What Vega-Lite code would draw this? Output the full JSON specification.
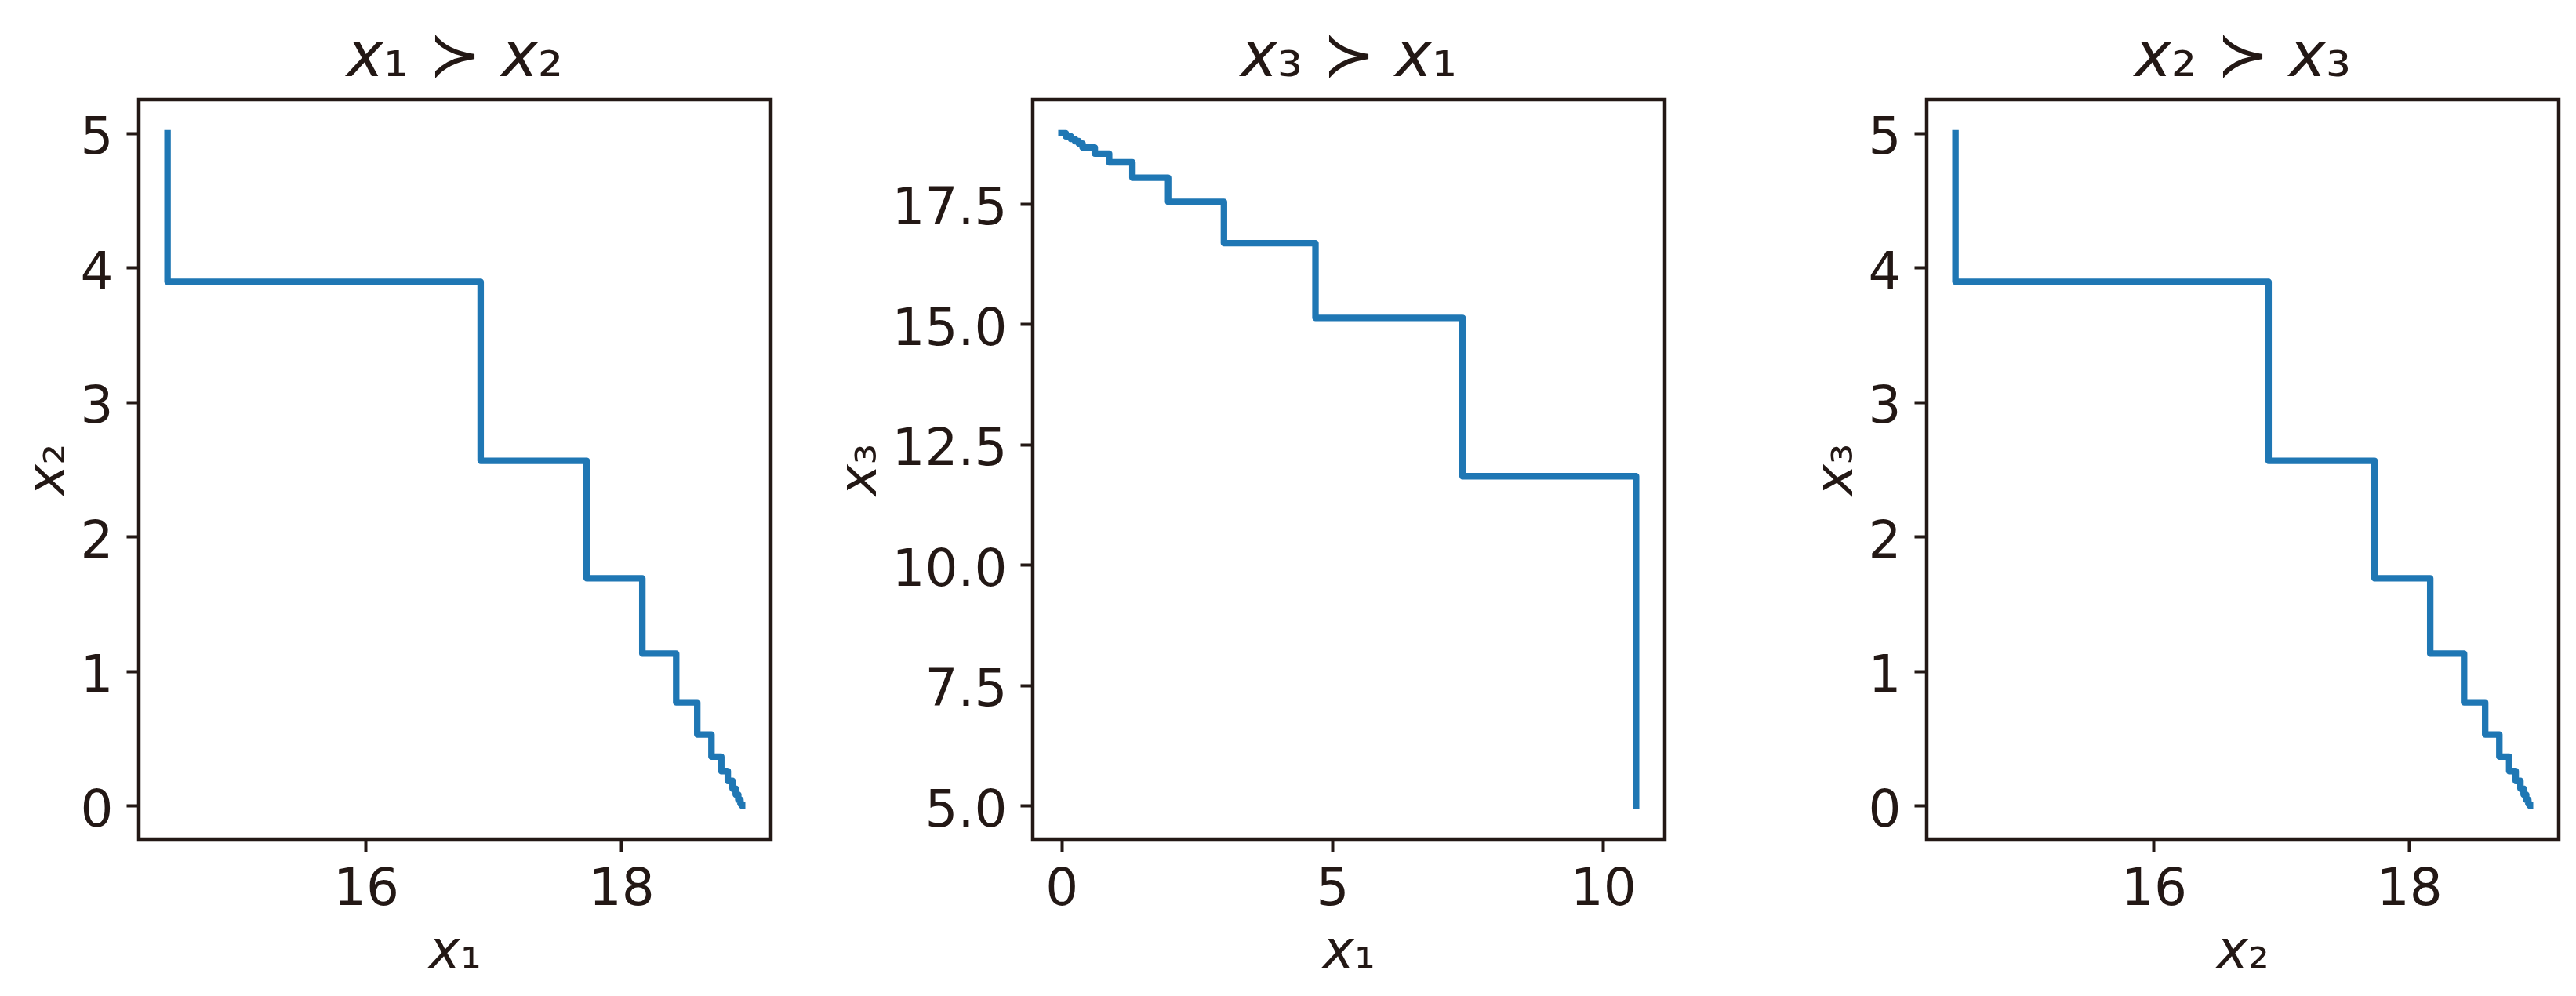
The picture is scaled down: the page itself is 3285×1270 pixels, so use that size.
{
  "$schema": "https://vega.github.io/schema/vega-lite/v6.json",
  "background": "white",
  "padding": {"left": 24, "top": 30, "right": 10, "bottom": 10},
  "datasets": {
    "p1": [
      {"i": 0, "x1": 14.448, "x2": 5},
      {"i": 1, "x1": 16.899, "x2": 3.895},
      {"i": 2, "x1": 17.729, "x2": 2.564},
      {"i": 3, "x1": 18.165, "x2": 1.69},
      {"i": 4, "x1": 18.43, "x2": 1.13},
      {"i": 5, "x1": 18.595, "x2": 0.767},
      {"i": 6, "x1": 18.706, "x2": 0.528},
      {"i": 7, "x1": 18.783, "x2": 0.363},
      {"i": 8, "x1": 18.834, "x2": 0.256},
      {"i": 9, "x1": 18.871, "x2": 0.183},
      {"i": 10, "x1": 18.896, "x2": 0.126},
      {"i": 11, "x1": 18.916, "x2": 0.082},
      {"i": 12, "x1": 18.933, "x2": 0.043},
      {"i": 13, "x1": 18.943, "x2": 0.014},
      {"i": 14, "x1": 18.946, "x2": 0}
    ],
    "p2": [
      {"i": 0, "x1": 0, "x3": 18.965},
      {"i": 1, "x1": 0.08, "x3": 18.9},
      {"i": 2, "x1": 0.175, "x3": 18.845},
      {"i": 3, "x1": 0.25, "x3": 18.8},
      {"i": 4, "x1": 0.32, "x3": 18.748},
      {"i": 5, "x1": 0.39, "x3": 18.667},
      {"i": 6, "x1": 0.615, "x3": 18.54},
      {"i": 7, "x1": 0.88, "x3": 18.36},
      {"i": 8, "x1": 1.31, "x3": 18.04},
      {"i": 9, "x1": 1.97, "x3": 17.54},
      {"i": 10, "x1": 3.0, "x3": 16.68},
      {"i": 11, "x1": 4.69, "x3": 15.13},
      {"i": 12, "x1": 7.406, "x3": 11.84},
      {"i": 13, "x1": 10.61, "x3": 5}
    ],
    "p3": [
      {"i": 0, "x2": 14.448, "x3": 5},
      {"i": 1, "x2": 16.899, "x3": 3.895},
      {"i": 2, "x2": 17.729, "x3": 2.564},
      {"i": 3, "x2": 18.165, "x3": 1.69},
      {"i": 4, "x2": 18.43, "x3": 1.13},
      {"i": 5, "x2": 18.595, "x3": 0.767},
      {"i": 6, "x2": 18.706, "x3": 0.528},
      {"i": 7, "x2": 18.783, "x3": 0.363},
      {"i": 8, "x2": 18.834, "x3": 0.256},
      {"i": 9, "x2": 18.871, "x3": 0.183},
      {"i": 10, "x2": 18.896, "x3": 0.126},
      {"i": 11, "x2": 18.916, "x3": 0.082},
      {"i": 12, "x2": 18.933, "x3": 0.043},
      {"i": 13, "x2": 18.943, "x3": 0.014},
      {"i": 14, "x2": 18.946, "x3": 0}
    ]
  },
  "bounds": "flush",
  "spacing": 334,
  "hconcat": [
    {
      "width": 806,
      "height": 943,
      "title": "𝘹₁ ≻ 𝘹₂",
      "data": {"name": "p1"},
      "mark": {"type": "line", "interpolate": "step-before", "color": "#1f77b4", "strokeWidth": 8.3, "strokeCap": "square", "strokeJoin": "round"},
      "encoding": {
        "x": {"field": "x1", "type": "quantitative", "title": "𝘹₁", "scale": {"domain": [14.223, 19.171], "nice": false, "zero": false}, "axis": {"values": [16, 18]}},
        "y": {"field": "x2", "type": "quantitative", "title": "𝘹₂", "scale": {"domain": [-0.25, 5.25], "nice": false, "zero": false}, "axis": {"values": [0, 1, 2, 3, 4, 5]}},
        "order": {"field": "i", "type": "quantitative"}
      }
    },
    {
      "width": 806,
      "height": 943,
      "title": "𝘹₃ ≻ 𝘹₁",
      "data": {"name": "p2"},
      "mark": {"type": "line", "interpolate": "step-after", "color": "#1f77b4", "strokeWidth": 8.3, "strokeCap": "square", "strokeJoin": "round"},
      "encoding": {
        "x": {"field": "x1", "type": "quantitative", "title": "𝘹₁", "scale": {"domain": [-0.5305, 11.1405], "nice": false, "zero": false}, "axis": {"values": [0, 5, 10]}},
        "y": {"field": "x3", "type": "quantitative", "title": "𝘹₃", "scale": {"domain": [4.302, 19.663], "nice": false, "zero": false}, "axis": {"values": [5, 7.5, 10, 12.5, 15, 17.5], "format": ".1f"}},
        "order": {"field": "i", "type": "quantitative"}
      }
    },
    {
      "width": 806,
      "height": 943,
      "title": "𝘹₂ ≻ 𝘹₃",
      "data": {"name": "p3"},
      "mark": {"type": "line", "interpolate": "step-before", "color": "#1f77b4", "strokeWidth": 8.3, "strokeCap": "square", "strokeJoin": "round"},
      "encoding": {
        "x": {"field": "x2", "type": "quantitative", "title": "𝘹₂", "scale": {"domain": [14.223, 19.171], "nice": false, "zero": false}, "axis": {"values": [16, 18]}},
        "y": {"field": "x3", "type": "quantitative", "title": "𝘹₃", "scale": {"domain": [-0.25, 5.25], "nice": false, "zero": false}, "axis": {"values": [0, 1, 2, 3, 4, 5]}},
        "order": {"field": "i", "type": "quantitative"}
      }
    }
  ],
  "config": {
    "font": "DejaVu Sans",
    "view": {"stroke": "#231815", "strokeWidth": 4.5, "fill": "white"},
    "axis": {
      "domain": false,
      "grid": false,
      "ticks": true,
      "tickSize": 16,
      "tickWidth": 4,
      "tickColor": "#231815",
      "labelFont": "DejaVu Sans",
      "labelFontSize": 66,
      "labelColor": "#231815",
      "labelPadding": 15,
      "labelFlush": false,
      "labelOverlap": false,
      "labelBound": false,
      "titleFont": "DejaVu Sans",
      "titleFontSize": 67,
      "titleFontStyle": "normal",
      "titleFontWeight": "normal",
      "titleColor": "#231815",
      "titlePadding": 14
    },
    "axisY": {"labelPadding": 17, "labelOffset": 6, "titlePadding": 7},
    "title": {
      "font": "DejaVu Sans",
      "fontSize": 80,
      "fontStyle": "normal",
      "fontWeight": "normal",
      "color": "#231815",
      "anchor": "middle",
      "offset": 13
    }
  }
}
